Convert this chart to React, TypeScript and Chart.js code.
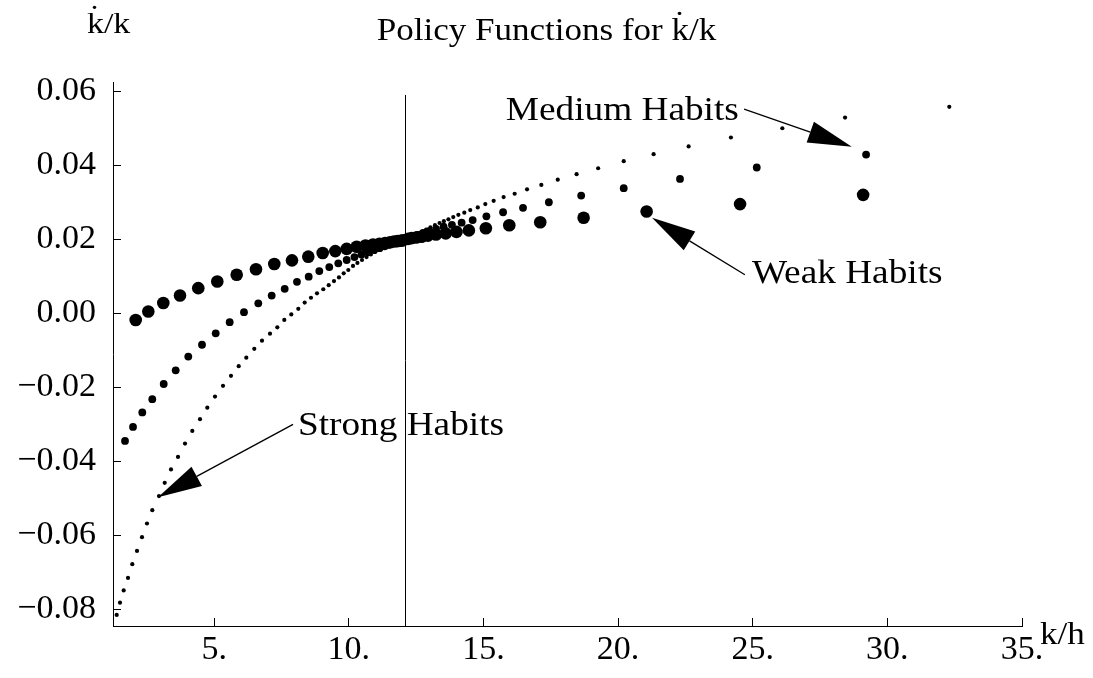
import React, { useEffect, useRef } from "react";
import { Chart, registerables } from "chart.js";
Chart.register(...registerables);

// ---- axes ----
const xTicks = [5, 10, 15, 20, 25, 30, 35];
const yTicks = [-0.08, -0.06, -0.04, -0.02, 0, 0.02, 0.04, 0.06];
const xRange = [1.244, 35];
const yRange = [-0.0845, 0.0625];
const steadyStateX = 12.1;
const steadyLineTop = 0.059;

// ---- series ----
const weakX = [2.087, 2.555, 3.112, 3.732, 4.411, 5.117, 5.837, 6.554, 7.233, 7.891, 8.496, 9.031, 9.499, 9.922, 10.293, 10.62, 10.9, 11.14, 11.35, 11.53, 11.68, 11.81, 11.92, 12.01, 12.2, 12.33, 12.5, 12.7, 12.94, 13.24, 13.6, 14.0, 14.46, 15.09, 15.96, 17.11, 18.72, 21.06, 24.53, 29.1];
const weakY = [-0.0018, 0.0005, 0.0028, 0.0048, 0.0068, 0.0086, 0.0104, 0.0119, 0.0133, 0.0143, 0.0153, 0.0163, 0.0168, 0.0174, 0.018, 0.0183, 0.0186, 0.0188, 0.019, 0.0192, 0.0194, 0.0195, 0.0196, 0.0197, 0.0201, 0.0203, 0.0205, 0.0207, 0.021, 0.0213, 0.0216, 0.022, 0.0224, 0.023, 0.0238, 0.0246, 0.0258, 0.0275, 0.0295, 0.032];

const mediumX = [1.69, 1.987, 2.332, 2.703, 3.127, 3.572, 4.04, 4.549, 5.058, 5.577, 6.108, 6.639, 7.137, 7.62, 8.076, 8.511, 8.905, 9.276, 9.61, 9.922, 10.21, 10.47, 10.71, 10.93, 11.14, 11.33, 11.49, 11.64, 11.77, 11.88, 11.98, 12.24, 12.38, 12.55, 12.76, 12.98, 13.24, 13.52, 13.83, 14.19, 14.6, 15.11, 15.73, 16.47, 17.43, 18.63, 20.21, 22.3, 25.15, 29.21];
const mediumY = [-0.0345, -0.0307, -0.0268, -0.0232, -0.0191, -0.0154, -0.0117, -0.0085, -0.0054, -0.0024, 0.0003, 0.0027, 0.0048, 0.0066, 0.0085, 0.0099, 0.0114, 0.0125, 0.0135, 0.0144, 0.0152, 0.0159, 0.0165, 0.0171, 0.0176, 0.0181, 0.0185, 0.0189, 0.0192, 0.0194, 0.0196, 0.0204, 0.0208, 0.0212, 0.0217, 0.0222, 0.0228, 0.0234, 0.0239, 0.0245, 0.0252, 0.0262, 0.0273, 0.0285, 0.03, 0.0318, 0.0338, 0.0363, 0.0394, 0.0429];

const strongX = [1.381, 1.504, 1.641, 1.801, 1.961, 2.135, 2.321, 2.506, 2.703, 2.952, 3.164, 3.398, 3.658, 3.918, 4.189, 4.475, 4.746, 5.032, 5.329, 5.626, 5.912, 6.194, 6.491, 6.777, 7.074, 7.345, 7.605, 7.865, 8.125, 8.362, 8.596, 8.819, 9.053, 9.254, 9.45, 9.636, 9.811, 9.982, 10.156, 10.32, 10.49, 10.66, 10.82, 10.99, 11.16, 11.31, 11.46, 11.59, 11.72, 11.83, 11.94, 12.03, 12.16, 12.27, 12.41, 12.55, 12.7, 12.87, 13.03, 13.2, 13.37, 13.53, 13.7, 13.88, 14.07, 14.29, 14.51, 14.79, 15.07, 15.38, 15.75, 16.16, 16.62, 17.15, 17.76, 18.46, 19.26, 20.21, 21.32, 22.62, 24.19, 26.1, 28.43, 32.3];
const strongY = [-0.0815, -0.0782, -0.0749, -0.0715, -0.0678, -0.0642, -0.0605, -0.0568, -0.0532, -0.0494, -0.0458, -0.0422, -0.0388, -0.0352, -0.0318, -0.0286, -0.0255, -0.0225, -0.0196, -0.0169, -0.0143, -0.012, -0.0096, -0.0074, -0.0055, -0.0038, -0.0018, -0.0003, 0.0012, 0.0029, 0.0042, 0.0054, 0.0065, 0.0076, 0.0087, 0.0097, 0.0108, 0.0117, 0.0128, 0.0136, 0.0144, 0.0152, 0.0159, 0.0166, 0.0172, 0.0178, 0.0183, 0.0188, 0.0192, 0.0195, 0.0197, 0.0199, 0.0201, 0.0204, 0.0209, 0.0214, 0.022, 0.0226, 0.0232, 0.0238, 0.0244, 0.0249, 0.0254, 0.026, 0.0266, 0.0272, 0.0279, 0.0286, 0.0295, 0.0304, 0.0314, 0.0323, 0.0335, 0.0347, 0.0361, 0.0376, 0.0392, 0.0411, 0.043, 0.0451, 0.0475, 0.05, 0.0529, 0.0558];

// ---- annotations (data coordinates) ----
const noteLabels = ["Medium Habits", "Weak Habits", "Strong Habits"];
const noteTextX = [15.83, 24.97, 8.11];
const noteTextY = [0.0522, 0.0082, -0.0329];
const arrowTailX = [24.68, 24.71, 7.93];
const arrowTailY = [0.0552, 0.0104, -0.03];
const arrowTipX = [28.68, 21.26, 2.915];
const arrowTipY = [0.045, 0.0258, -0.0497];

const titleText = "Policy Functions for k\u0307/k";
const yAxisTitle = "k\u0307/k";
const xAxisTitle = "k/h";

const FONT = '"Liberation Serif", "Times New Roman", serif';
const STRETCH = 1.13;

function stretchedText(ctx: CanvasRenderingContext2D, text: string, x: number, y: number, align: CanvasTextAlign, size: number) {
  ctx.save();
  ctx.font = `${size}px ${FONT}`;
  ctx.fillStyle = "#000";
  ctx.textAlign = align;
  ctx.textBaseline = "alphabetic";
  ctx.translate(x, y);
  ctx.scale(STRETCH, 1);
  ctx.fillText(text, 0, 0);
  ctx.restore();
}

const decorPlugin = {
  id: "decor",
  afterDatasetsDraw(chart: any) {
    const ctx = chart.ctx as CanvasRenderingContext2D;
    const xs = chart.scales.x;
    const ys = chart.scales.y;
    ctx.save();
    ctx.strokeStyle = "#000";
    ctx.lineWidth = 1;
    const vx = Math.round(xs.getPixelForValue(steadyStateX)) + 0.5;
    ctx.beginPath();
    ctx.moveTo(vx, ys.getPixelForValue(steadyLineTop));
    ctx.lineTo(vx, ys.getPixelForValue(yRange[0]));
    ctx.stroke();
    for (let i = 0; i < noteLabels.length; i++) {
      const tx = xs.getPixelForValue(arrowTailX[i]);
      const ty = ys.getPixelForValue(arrowTailY[i]);
      const px = xs.getPixelForValue(arrowTipX[i]);
      const py = ys.getPixelForValue(arrowTipY[i]);
      const dx = px - tx, dy = py - ty;
      const len = Math.hypot(dx, dy);
      const ux = dx / len, uy = dy / len;
      const headLen = 44, headHalf = 11;
      const bx = px - ux * headLen, by = py - uy * headLen;
      ctx.lineWidth = 1.3;
      ctx.beginPath();
      ctx.moveTo(tx, ty);
      ctx.lineTo(bx, by);
      ctx.stroke();
      ctx.fillStyle = "#000";
      ctx.beginPath();
      ctx.moveTo(px, py);
      ctx.lineTo(bx - uy * headHalf, by + ux * headHalf);
      ctx.lineTo(bx + uy * headHalf, by - ux * headHalf);
      ctx.closePath();
      ctx.fill();
      stretchedText(ctx, noteLabels[i], xs.getPixelForValue(noteTextX[i]), ys.getPixelForValue(noteTextY[i]), "left", 33);
    }
    ctx.restore();
  },
  afterDraw(chart: any) {
    const ctx = chart.ctx as CanvasRenderingContext2D;
    const area = chart.chartArea;
    stretchedText(ctx, titleText, chart.width / 2, 40, "center", 31);
    stretchedText(ctx, yAxisTitle, 87, 33, "left", 30);
    stretchedText(ctx, xAxisTitle, area.right + 18, area.bottom + 18, "left", 31);
  },
};

export default function App() {
  const ref = useRef<HTMLCanvasElement | null>(null);
  useEffect(() => {
    if (!ref.current) return;
    const pts = (xs: number[], ys: number[]) => xs.map((x, i) => ({ x, y: ys[i] }));
    const tickFont = { family: FONT, size: 34 };
    const chart = new Chart(ref.current, {
      type: "scatter",
      data: {
        datasets: [
          { label: "Weak Habits", data: pts(weakX, weakY), pointRadius: 6.3, pointBackgroundColor: "#000", pointBorderWidth: 0, showLine: false },
          { label: "Medium Habits", data: pts(mediumX, mediumY), pointRadius: 3.9, pointBackgroundColor: "#000", pointBorderWidth: 0, showLine: false },
          { label: "Strong Habits", data: pts(strongX, strongY), pointRadius: 2.1, pointBackgroundColor: "#000", pointBorderWidth: 0, showLine: false },
        ],
      },
      options: {
        animation: false,
        responsive: false,
        devicePixelRatio: 1,
        layout: { padding: { left: 0, right: 71, top: 82, bottom: 0 } },
        plugins: { legend: { display: false }, tooltip: { enabled: false }, title: { display: false } },
        scales: {
          x: {
            type: "linear",
            position: "bottom",
            min: xRange[0],
            max: xRange[1],
            afterBuildTicks: (s: any) => { s.ticks = xTicks.map((v) => ({ value: v })); },
            afterFit: (s: any) => { s.height = 52; },
            grid: { display: true, drawOnChartArea: false, drawTicks: true, tickLength: -8, color: "#000", lineWidth: 1 },
            border: { display: true, color: "#000", width: 1 },
            ticks: { color: "#000", font: tickFont, padding: 12, maxRotation: 0, autoSkip: false, callback: (v: any) => `${v}.` },
          },
          y: {
            type: "linear",
            min: yRange[0],
            max: yRange[1],
            afterBuildTicks: (s: any) => { s.ticks = yTicks.map((v) => ({ value: v })); },
            afterFit: (s: any) => { s.width = 113; },
            grid: { display: true, drawOnChartArea: false, drawTicks: true, tickLength: -8, color: "#000", lineWidth: 1 },
            border: { display: true, color: "#000", width: 1 },
            ticks: {
              color: "#000",
              font: tickFont,
              padding: 25,
              autoSkip: false,
              callback: (v: any) => {
                const n = Number(v);
                const s = Math.abs(n).toFixed(2);
                return n < -1e-9 ? "\u2212" + s : s;
              },
            },
          },
        },
      },
      plugins: [decorPlugin],
    });
    return () => chart.destroy();
  }, []);
  return (
    <div style={{ position: "fixed", left: 0, top: 0, width: 1093, height: 678, background: "#fff" }}>
      <canvas ref={ref} width={1093} height={678} style={{ display: "block", width: 1093, height: 678 }} />
    </div>
  );
}
